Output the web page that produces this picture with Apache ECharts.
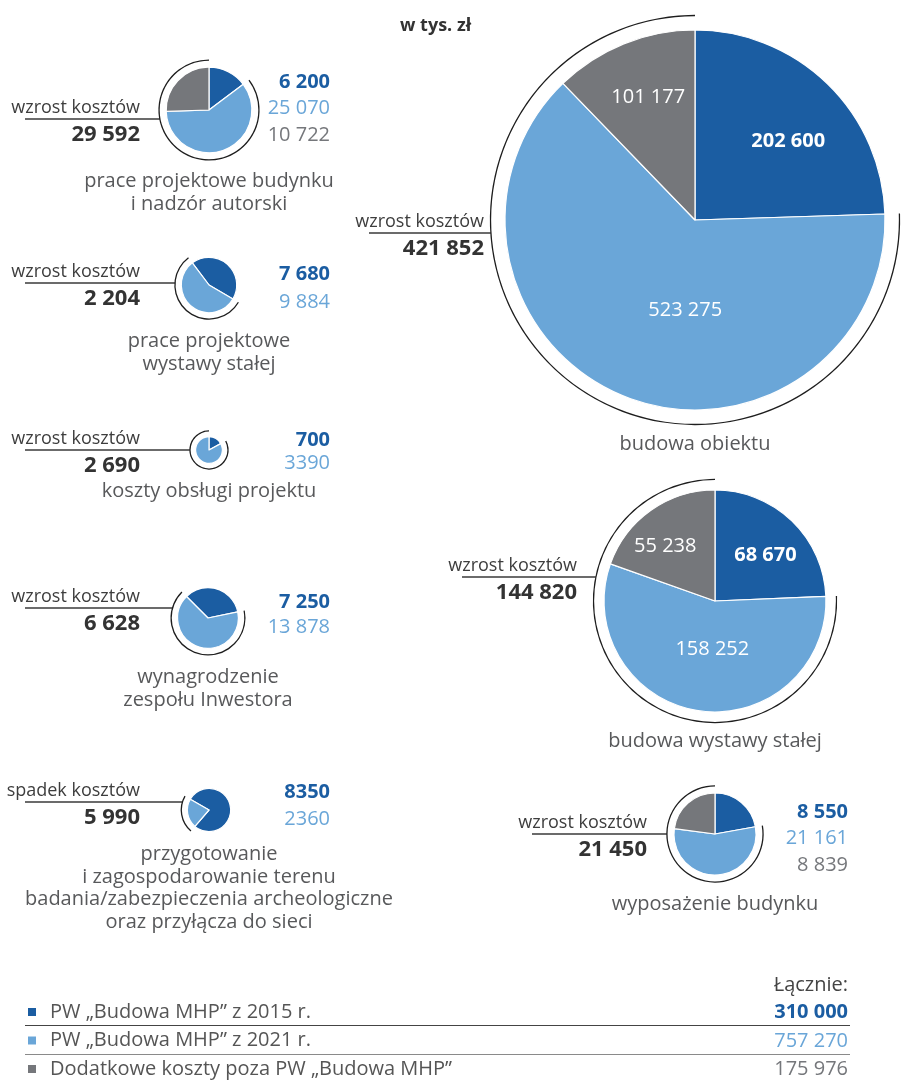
<!DOCTYPE html>
<html>
<head>
<meta charset="utf-8">
<script src="https://cdn.jsdelivr.net/npm/echarts@6/dist/echarts.min.js"></script>
<style>
  html, body { margin: 0; padding: 0; background: #fff; }
  #chart { width: 914px; height: 1081px; }
</style>
</head>
<body>
<div id="chart"></div>
<script>
// kwoty w tys. zł
var names = [
    'budowa obiektu',
    'budowa wystawy stałej',
    'wyposażenie budynku',
    'prace projektowe budynku\ni nadzór autorski',
    'prace projektowe\nwystawy stałej',
    'koszty obsługi projektu',
    'wynagrodzenie\nzespołu Inwestora',
    'przygotowanie\ni zagospodarowanie terenu\nbadania/zabezpieczenia archeologiczne\noraz przyłącza do sieci'
];
var v2015 = [202600, 68670, 8550, 6200, 7680, 700, 7250, 8350];
var v2021 = [523275, 158252, 21161, 25070, 9884, 3390, 13878, 2360];
var vExtra = [101177, 55238, 8839, 10722, 0, 0, 0, 0];

var seriesNames = ['PW „Budowa MHP” z 2015 r.', 'PW „Budowa MHP” z 2021 r.', 'Dodatkowe koszty poza PW „Budowa MHP”'];
var colors = ['#1b5da2', '#6aa6d8', '#75777b'];

// rozmieszczenie (start = kat poczatku ciemnej czesci, w stopniach od godz. 12)
var layout = [
    {cx: 695, cy: 220, start: 0, lineY: 233, labelRight: 484, titleY: 445, inside: true, shift: [[25, -8], [27, -1], [-10, -32]]},
    {cx: 715, cy: 601, start: 0, lineY: 577, labelRight: 577, titleY: 742, inside: true, shift: [[10, -3], [6, -10], [-16, -7]]},
    {cx: 715, cy: 834, start: 0, lineY: 834, labelRight: 647, valRight: 848, valY: 812, valGap: 26.5, titleY: 905},
    {cx: 209, cy: 110, start: 0, lineY: 119, labelRight: 140, valRight: 330, valY: 82, valGap: 26.5, titleY: 182},
    {cx: 209, cy: 285, start: 323, lineY: 283, labelRight: 140, valRight: 330, valY: 274, valGap: 28, titleY: 342},
    {cx: 209, cy: 450, start: 0, lineY: 450, labelRight: 140, valRight: 330, valY: 440, valGap: 23, titleY: 492, plain: true},
    {cx: 208, cy: 618, start: 315, lineY: 608, labelRight: 140, valRight: 330, valY: 602, valGap: 25, titleY: 678},
    {cx: 209, cy: 810, start: 300, lineY: 802, labelRight: 140, valRight: 330, valY: 792, valGap: 27, titleY: 855, plain: true}
];

var FONT = '"Open Sans", sans-serif';
var R = 190;

function fmt(v, group) {
    var s = String(Math.abs(v));
    if (group === false) return s;
    return s.replace(/\B(?=(\d{3})+(?!\d))/g, ' ');
}

var totals = names.map(function (n, i) { return v2015[i] + v2021[i] + vExtra[i]; });
var maxTotal = Math.max.apply(null, totals);

var series = [];
var graphic = [];

names.forEach(function (name, i) {
    var L = layout[i];
    var r = R * Math.sqrt(totals[i] / maxTotal);
    var ra = r * 1.05 + 5;
    var startAngle = 90 - L.start;
    var vals = [v2015[i], v2021[i], vExtra[i]];

    var data = [];
    vals.forEach(function (v, k) {
        if (!v) return;
        data.push({
            name: seriesNames[k],
            value: v,
            itemStyle: {color: colors[k]},
            label: {fontWeight: k === 0 ? 'bold' : 'normal'}
        });
    });

    series.push({
        type: 'pie',
        name: name,
        center: [L.cx, L.cy],
        radius: [0, r],
        startAngle: startAngle,
        clockwise: true,
        avoidLabelOverlap: false,
        itemStyle: {borderColor: '#fff', borderWidth: 1.2},
        emphasis: {disabled: true},
        label: {
            show: !!L.inside,
            position: 'inside',
            color: '#fff',
            fontFamily: FONT,
            fontSize: 20,
            formatter: function (p) { return fmt(p.value); }
        },
        labelLine: {show: false},
        labelLayout: L.inside ? function (p) {
            var sh = L.shift[p.dataIndex];
            return {dx: sh[0], dy: sh[1]};
        } : null,
        data: data
    });

    // luk: nowy koszt (2021 + dodatkowe)
    series.push({
        type: 'pie',
        name: name + ' luk',
        center: [L.cx, L.cy],
        radius: [ra - 0.65, ra + 0.65],
        startAngle: startAngle,
        clockwise: true,
        silent: true,
        label: {show: false},
        labelLine: {show: false},
        emphasis: {disabled: true},
        data: [
            {name: 'stare', value: v2015[i], itemStyle: {color: 'rgba(0,0,0,0)'}},
            {name: 'nowe', value: v2021[i] + vExtra[i], itemStyle: {color: '#1e1e1e'}}
        ]
    });

    // wzrost / spadek
    var diff = v2021[i] + vExtra[i] - v2015[i];
    var dy = L.lineY - L.cy;
    var lineEnd = L.cx - Math.sqrt(Math.max(ra * ra - dy * dy, 0));
    graphic.push({
        type: 'line',
        shape: {x1: L.labelRight - 115, y1: L.lineY, x2: lineEnd, y2: L.lineY},
        style: {stroke: '#3a3a3a', lineWidth: 1.3}
    });
    graphic.push({
        type: 'text',
        style: {
            text: diff >= 0 ? 'wzrost kosztów' : 'spadek kosztów',
            x: L.labelRight, y: L.lineY - 11,
            align: 'right', verticalAlign: 'middle',
            font: '18px ' + FONT, fill: '#3d3d3d'
        }
    });
    graphic.push({
        type: 'text',
        style: {
            text: fmt(diff),
            x: L.labelRight, y: L.lineY + 16,
            align: 'right', verticalAlign: 'middle',
            font: 'bold 22px ' + FONT, fill: '#333'
        }
    });

    // wartosci obok malych wykresow
    if (!L.inside) {
        var row = 0;
        vals.forEach(function (v, k) {
            if (!v) return;
            graphic.push({
                type: 'text',
                style: {
                    text: fmt(v, !L.plain),
                    x: L.valRight, y: L.valY + row * L.valGap,
                    align: 'right', verticalAlign: 'middle',
                    font: (k === 0 ? 'bold ' : '') + '20px ' + FONT,
                    fill: colors[k]
                }
            });
            row++;
        });
    }

    // podpis
    graphic.push({
        type: 'text',
        style: {
            text: name,
            x: L.cx, y: L.titleY - 11.5,
            align: 'center', verticalAlign: 'top',
            lineHeight: 22.5,
            font: '20px ' + FONT, fill: '#58595b'
        }
    });
});

graphic.push({
    type: 'text',
    style: {text: 'w tys. zł', x: 400, y: 26, verticalAlign: 'middle', font: 'bold 18px ' + FONT, fill: '#333'}
});

// legenda - sumy
var sums = [v2015, v2021, vExtra].map(function (arr) {
    return arr.reduce(function (a, b) { return a + b; }, 0);
});
var legendY = [1012, 1041, 1069];
graphic.push({
    type: 'text',
    style: {text: 'Łącznie:', x: 848, y: 985, align: 'right', verticalAlign: 'middle', font: '20px ' + FONT, fill: '#444'}
});
sums.forEach(function (s, k) {
    graphic.push({
        type: 'text',
        style: {
            text: fmt(s), x: 848, y: legendY[k],
            align: 'right', verticalAlign: 'middle',
            font: (k === 0 ? 'bold ' : '') + '20px ' + FONT, fill: colors[k]
        }
    });
});
graphic.push({type: 'line', shape: {x1: 25, y1: 1025.5, x2: 850, y2: 1025.5}, style: {stroke: '#444', lineWidth: 1.2}});
graphic.push({type: 'line', shape: {x1: 25, y1: 1054.5, x2: 850, y2: 1054.5}, style: {stroke: '#8a8a8a', lineWidth: 1.2}});

var myChart = echarts.init(document.getElementById('chart'));
var option = {
    animation: false,
    legend: {
        data: seriesNames,
        orient: 'vertical',
        left: 26,
        top: 1002,
        padding: 0,
        icon: 'rect',
        itemWidth: 10,
        itemHeight: 10,
        itemGap: 8.5,
        selectedMode: false,
        textStyle: {fontFamily: FONT, fontSize: 20, color: '#555', lineHeight: 20, padding: [0, 0, 0, 8]}
    },
    series: series,
    graphic: graphic
};
myChart.setOption(option);
</script>
</body>
</html>
